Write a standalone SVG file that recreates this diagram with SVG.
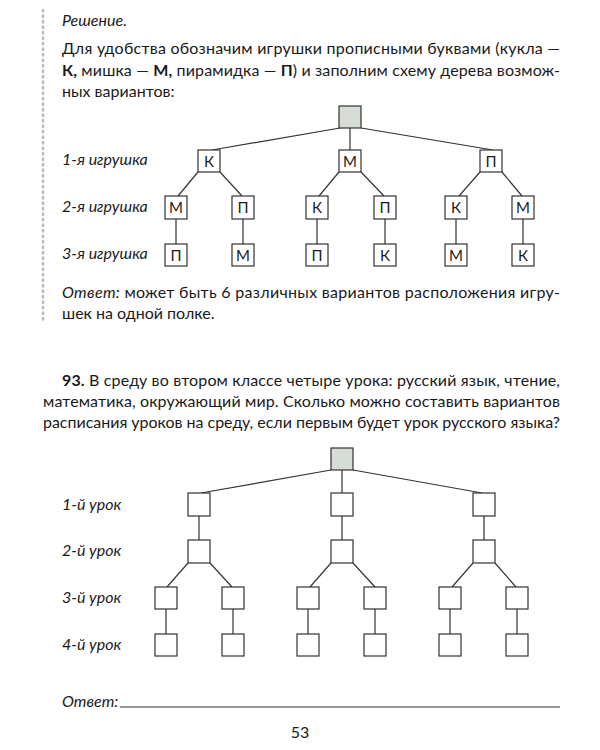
<svg xmlns="http://www.w3.org/2000/svg" width="600" height="750" viewBox="0 0 600 750">
<style>
text{font-family:Lato,"Open Sans","Noto Sans",sans-serif;font-size:16px;fill:#1a1a1a}
.i{font-style:italic}
.b{font-weight:bold}
.n rect{fill:#fff;stroke:#333;stroke-width:1.2}
.n text{text-anchor:middle;font-size:15px}
.r rect{fill:#d6dcd6;stroke:#333;stroke-width:1.2}
.c line{stroke:#333;stroke-width:1.2}
</style>
<rect width="600" height="750" fill="#fff"/>
<line x1="43" y1="10" x2="43" y2="322" stroke="#bbb" stroke-width="2.5" stroke-dasharray="1.5 4" stroke-linecap="round"/>
<text x="62" y="26" class="i">Решение.</text>
<text x="62" y="54" textLength="498" lengthAdjust="spacing">Для удобства обозначим игрушки прописными буквами (кукла —</text>
<text x="62" y="76" textLength="498" lengthAdjust="spacing"><tspan class="b">К,</tspan> мишка — <tspan class="b">М,</tspan> пирамидка — <tspan class="b">П</tspan>) и заполним схему дерева возмож-</text>
<text x="62" y="97">ных вариантов:</text>
<text x="62" y="165" class="i" font-size="15">1-я игрушка</text>
<text x="62" y="212" class="i" font-size="15">2-я игрушка</text>
<text x="62" y="259" class="i" font-size="15">3-я игрушка</text>
<g class="c" id="connectors1">
<line x1="340" y1="128" x2="212" y2="150"/><line x1="350" y1="128" x2="350" y2="150"/><line x1="361" y1="128" x2="493" y2="150"/>
<line x1="198" y1="172" x2="178" y2="196"/><line x1="220" y1="172" x2="242" y2="196"/>
<line x1="339" y1="172" x2="319" y2="196"/><line x1="361" y1="172" x2="384" y2="196"/>
<line x1="480" y1="172" x2="459" y2="196"/><line x1="502" y1="172" x2="522" y2="196"/>
<line x1="176" y1="219" x2="176" y2="244"/><line x1="243" y1="219" x2="243" y2="244"/><line x1="317" y1="219" x2="317" y2="244"/><line x1="385" y1="219" x2="385" y2="244"/><line x1="456" y1="219" x2="456" y2="244"/><line x1="523" y1="219" x2="523" y2="244"/>
</g>
<g id="t1root" class="r"><rect x="339" y="106" width="22" height="22"/></g>
<g id="t1k" class="n"><rect x="198" y="150" width="22" height="22"/><text x="209" y="167">К</text></g>
<g id="t1m" class="n"><rect x="339" y="150" width="22" height="22"/><text x="350" y="167">М</text></g>
<g id="t1p" class="n"><rect x="480" y="150" width="22" height="22"/><text x="491" y="167">П</text></g>
<g id="t1a" class="n"><rect x="165" y="196" width="22" height="23"/><text x="176" y="213">М</text></g>
<g id="t1b" class="n"><rect x="232" y="196" width="22" height="23"/><text x="243" y="213">П</text></g>
<g id="t1c" class="n"><rect x="306" y="196" width="22" height="23"/><text x="317" y="213">К</text></g>
<g id="t1d" class="n"><rect x="374" y="196" width="22" height="23"/><text x="385" y="213">П</text></g>
<g id="t1e" class="n"><rect x="445" y="196" width="22" height="23"/><text x="456" y="213">К</text></g>
<g id="t1f" class="n"><rect x="512" y="196" width="22" height="23"/><text x="523" y="213">М</text></g>
<g id="t1g" class="n"><rect x="165" y="244" width="22" height="22"/><text x="176" y="261">П</text></g>
<g id="t1h" class="n"><rect x="232" y="244" width="22" height="22"/><text x="243" y="261">М</text></g>
<g id="t1i" class="n"><rect x="306" y="244" width="22" height="22"/><text x="317" y="261">П</text></g>
<g id="t1j" class="n"><rect x="374" y="244" width="22" height="22"/><text x="385" y="261">К</text></g>
<g id="t1k2" class="n"><rect x="445" y="244" width="22" height="22"/><text x="456" y="261">М</text></g>
<g id="t1l" class="n"><rect x="512" y="244" width="22" height="22"/><text x="523" y="261">К</text></g>
<text x="62" y="298" textLength="498" lengthAdjust="spacing"><tspan class="i">Ответ:</tspan> может быть 6 различных вариантов расположения игру-</text>
<text x="62" y="319">шек на одной полке.</text>
<text x="62" y="386" textLength="498" lengthAdjust="spacing"><tspan class="b">93.</tspan> В среду во втором классе четыре урока: русский язык, чтение,</text>
<text x="43" y="407" textLength="517" lengthAdjust="spacing">математика, окружающий мир. Сколько можно составить вариантов</text>
<text x="43" y="428" textLength="517" lengthAdjust="spacing">расписания уроков на среду, если первым будет урок русского языка?</text>
<text x="62" y="510" class="i" font-size="15">1-й урок</text>
<text x="62" y="556" class="i" font-size="15">2-й урок</text>
<text x="62" y="603" class="i" font-size="15">3-й урок</text>
<text x="62" y="650" class="i" font-size="15">4-й урок</text>
<g class="c" id="connectors2">
<line x1="331" y1="470" x2="201" y2="493"/><line x1="342" y1="470" x2="342" y2="493"/><line x1="353" y1="470" x2="482" y2="493"/>
<line x1="199" y1="516" x2="199" y2="540"/><line x1="342" y1="516" x2="342" y2="540"/><line x1="484" y1="516" x2="484" y2="540"/>
<line x1="188" y1="563" x2="167" y2="587"/><line x1="210" y1="563" x2="232" y2="587"/>
<line x1="331" y1="563" x2="310" y2="587"/><line x1="353" y1="563" x2="375" y2="587"/>
<line x1="473" y1="563" x2="452" y2="587"/><line x1="495" y1="563" x2="516" y2="587"/>
<line x1="166" y1="609" x2="166" y2="634"/><line x1="233" y1="609" x2="233" y2="634"/><line x1="308" y1="609" x2="308" y2="634"/><line x1="375" y1="609" x2="375" y2="634"/><line x1="450" y1="609" x2="450" y2="634"/><line x1="517" y1="609" x2="517" y2="634"/>
</g>
<g id="t2root" class="r"><rect x="331" y="448" width="22" height="22"/></g>
<g id="t2a" class="n"><rect x="188" y="493" width="22" height="23"/></g>
<g id="t2b" class="n"><rect x="331" y="493" width="22" height="23"/></g>
<g id="t2c" class="n"><rect x="473" y="493" width="22" height="23"/></g>
<g id="t2d" class="n"><rect x="188" y="540" width="22" height="23"/></g>
<g id="t2e" class="n"><rect x="331" y="540" width="22" height="23"/></g>
<g id="t2f" class="n"><rect x="473" y="540" width="22" height="23"/></g>
<g id="t2g" class="n"><rect x="155" y="587" width="22" height="22"/></g>
<g id="t2h" class="n"><rect x="222" y="587" width="22" height="22"/></g>
<g id="t2i" class="n"><rect x="297" y="587" width="22" height="22"/></g>
<g id="t2j" class="n"><rect x="364" y="587" width="22" height="22"/></g>
<g id="t2k" class="n"><rect x="439" y="587" width="22" height="22"/></g>
<g id="t2l" class="n"><rect x="506" y="587" width="22" height="22"/></g>
<g id="t2m" class="n"><rect x="155" y="634" width="22" height="22"/></g>
<g id="t2n" class="n"><rect x="222" y="634" width="22" height="22"/></g>
<g id="t2o" class="n"><rect x="297" y="634" width="22" height="22"/></g>
<g id="t2p" class="n"><rect x="364" y="634" width="22" height="22"/></g>
<g id="t2q" class="n"><rect x="439" y="634" width="22" height="22"/></g>
<g id="t2r" class="n"><rect x="506" y="634" width="22" height="22"/></g>
<text x="62" y="707" class="i">Ответ:</text>
<line x1="120" y1="707" x2="560" y2="707" stroke="#333" stroke-width="1"/>
<text x="300" y="738" text-anchor="middle">53</text>
</svg>
